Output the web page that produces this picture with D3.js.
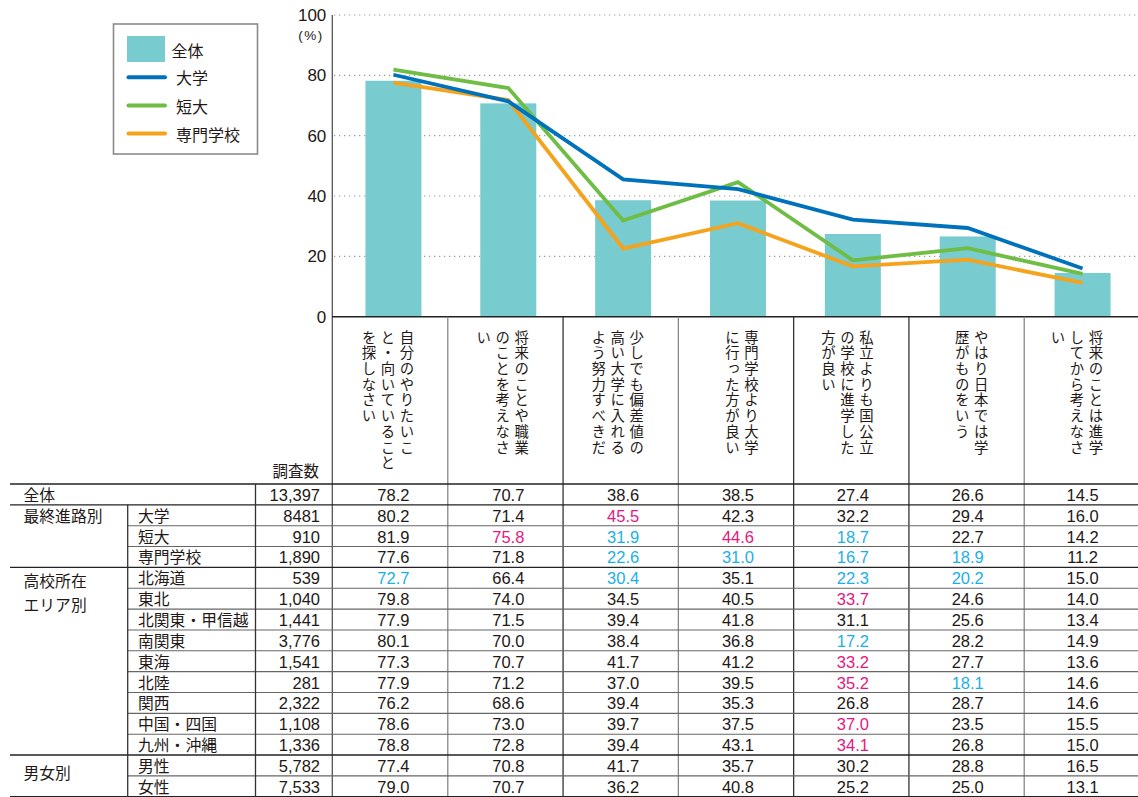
<!DOCTYPE html>
<html><head><meta charset="utf-8">
<script src="https://cdn.jsdelivr.net/npm/d3@7"></script>
<style>
html,body{margin:0;padding:0;background:#fff;}
svg{display:block;font-family:"Liberation Sans","Noto Sans CJK JP",sans-serif;}
</style></head>
<body>
<svg id="chart" width="1138" height="797"></svg>
<script>
// ---------- data ----------
const categories = [
  ["自分のやりたいこ","と・向いていること","を探しなさい"],
  ["将来のことや職業","のことを考えなさ","い"],
  ["少しでも偏差値の","高い大学に入れる","よう努力すべきだ"],
  ["専門学校より大学","に行った方が良い"],
  ["私立よりも国公立","の学校に進学した","方が良い"],
  ["やはり日本では学","歴がものをいう"],
  ["将来のことは進学","してから考えなさ","い"]
];
const seriesNames = ["全体","大学","短大","専門学校"];
const totalValues  = [78.2,70.7,38.6,38.5,27.4,26.6,14.5];
const univValues   = [80.2,71.4,45.5,42.3,32.2,29.4,16.0];
const juniorValues = [81.9,75.8,31.9,44.6,18.7,22.7,14.2];
const vocValues    = [77.6,71.8,22.6,31.0,16.7,18.9,11.2];
const yTicks = [0,20,40,60,80,100];

const groupLabels = [
  {row:0, lines:["全体"]},
  {row:1, lines:["最終進路別"]},
  {row:4, lines:["高校所在","エリア別"]},
  {row:13, lines:["男女別"]}
];
const rowLabels = ["","大学","短大","専門学校","北海道","東北","北関東・甲信越","南関東","東海","北陸","関西","中国・四国","九州・沖縄","男性","女性"];
const rowCounts = ["13,397","8481","910","1,890","539","1,040","1,441","3,776","1,541","281","2,322","1,108","1,336","5,782","7,533"];
const rowValues = [
  [78.2,70.7,38.6,38.5,27.4,26.6,14.5],
  [80.2,71.4,45.5,42.3,32.2,29.4,16.0],
  [81.9,75.8,31.9,44.6,18.7,22.7,14.2],
  [77.6,71.8,22.6,31.0,16.7,18.9,11.2],
  [72.7,66.4,30.4,35.1,22.3,20.2,15.0],
  [79.8,74.0,34.5,40.5,33.7,24.6,14.0],
  [77.9,71.5,39.4,41.8,31.1,25.6,13.4],
  [80.1,70.0,38.4,36.8,17.2,28.2,14.9],
  [77.3,70.7,41.7,41.2,33.2,27.7,13.6],
  [77.9,71.2,37.0,39.5,35.2,18.1,14.6],
  [76.2,68.6,39.4,35.3,26.8,28.7,14.6],
  [78.6,73.0,39.7,37.5,37.0,23.5,15.5],
  [78.8,72.8,39.4,43.1,34.1,26.8,15.0],
  [77.4,70.8,41.7,35.7,30.2,28.8,16.5],
  [79.0,70.7,36.2,40.8,25.2,25.0,13.1]
];
// h = high (pink), l = low (cyan), - = normal
const highlightRows = [
  "-------","--h----","-hlhl--","--llll-","l-l-ll-","----h--","-------",
  "----l--","----h--","----hl-","-------","----h--","----h--","-------","-------"
];

// ---------- styles ----------
const C = {bar:"#78cbce", univ:"#0071bb", junior:"#6fbd45", voc:"#f5a21d",
  text:"#231815", pink:"#e5177f", cyan:"#1cafe6", grid:"#9a9a9a"};
const JP = '"Noto Sans CJK JP",sans-serif';

const svg = d3.select("#chart");
const W = 1138;

// ---------- scales ----------
const x = d3.scalePoint().domain(d3.range(categories.length)).range([336,1140]).padding(0.5);
const y = d3.scaleLinear().domain([0,100]).range([316.7,15]);
const colBand = d3.scaleBand().domain(d3.range(categories.length)).range([332.5,1139.5]);
const barW = 56;

// gridlines
svg.append("g").selectAll("line").data(yTicks.filter(d=>d>0)).join("line")
  .attr("x1",334).attr("x2",W).attr("y1",d=>y(d)).attr("y2",d=>y(d))
  .attr("stroke",C.grid).attr("stroke-width",1.2).attr("stroke-dasharray","1.3,3.7");

// bars
svg.append("g").selectAll("rect").data(totalValues).join("rect")
  .attr("x",(d,i)=>x(i)-barW/2).attr("width",barW)
  .attr("y",d=>y(d)).attr("height",d=>y(0)-y(d))
  .attr("fill",C.bar);

// lines
const lineGen = d3.line().x((d,i)=>x(i)).y(d=>y(d));
[[vocValues,C.voc],[juniorValues,C.junior],[univValues,C.univ]].forEach(([vals,col])=>{
  svg.append("path").attr("d",lineGen(vals)).attr("fill","none")
    .attr("stroke",col).attr("stroke-width",3.8).attr("stroke-linejoin","miter").attr("stroke-linecap","butt");
});

// y axis
const yAxis = d3.axisLeft(y).tickValues(yTicks).tickSize(0).tickPadding(6);
const ag = svg.append("g").attr("transform","translate(332.3,0)").call(yAxis);
ag.select(".domain").remove();
ag.selectAll("text").attr("font-size",17).attr("fill",C.text)
  .attr("font-family",'"Liberation Sans",sans-serif').attr("dx",0);
svg.append("text").attr("x",311).attr("y",35).attr("text-anchor","middle")
  .attr("dominant-baseline","central").attr("font-size",13.5).attr("fill",C.text)
  .attr("font-family",'"Liberation Sans",sans-serif').text("(%)").attr("letter-spacing",1.5);

// axis line down through table
svg.append("line").attr("x1",332.3).attr("x2",332.3).attr("y1",15).attr("y2",797)
  .attr("stroke","#555").attr("stroke-width",1.3);
// baseline
svg.append("line").attr("x1",332).attr("x2",W).attr("y1",y(0)).attr("y2",y(0))
  .attr("stroke","#222").attr("stroke-width",1.6);

// ---------- legend ----------
const lg = svg.append("g");
lg.append("rect").attr("x",113.5).attr("y",24).attr("width",144).attr("height",130)
  .attr("fill","#fff").attr("stroke","#8a8a8a").attr("stroke-width",1.6);
lg.append("rect").attr("x",127).attr("y",36).attr("width",38).attr("height",26).attr("fill",C.bar);
const legendLineColors = [C.univ,C.junior,C.voc];
const legendYs = [50,77.3,105.5,133.5];
seriesNames.forEach((n,i)=>{
  if(i>0){
    lg.append("line").attr("x1",128.5).attr("x2",165).attr("y1",legendYs[i]).attr("y2",legendYs[i])
      .attr("stroke",legendLineColors[i-1]).attr("stroke-width",4).attr("stroke-linecap","round");
  }
  lg.append("text").attr("x",i===0?171.5:176).attr("y",legendYs[i]).attr("dominant-baseline","central")
    .attr("font-family",JP).attr("font-size",16).attr("fill",C.text).text(n);
});

// ---------- category labels (vertical) ----------
const colSpacing = 19;
categories.forEach((lines,i)=>{
  const right = x(i) + 13.5;
  lines.forEach((ln,j)=>{
    svg.append("text").attr("x",right - j*colSpacing).attr("y",330)
      .attr("style","writing-mode: vertical-rl; letter-spacing: 1.3px;")
      .attr("font-family",JP).attr("font-size",14.4).attr("fill",C.text).text(ln);
  });
});

// column separators
const colBounds = d3.range(1,categories.length).map(i=>colBand(i));
const colStroke = ["#888","#333","#888","#333","#333","#888"];
svg.append("g").selectAll("line").data(colBounds).join("line")
  .attr("x1",d=>d).attr("x2",d=>d).attr("y1",y(0)).attr("y2",797)
  .attr("stroke",(d,i)=>colStroke[i]).attr("stroke-width",1.3);

// ---------- table ----------
const tTop = 484, rowH = 20.85;
const rowY = i => tTop + rowH*i + rowH/2;
svg.append("text").attr("x",319).attr("y",470).attr("text-anchor","end")
  .attr("dominant-baseline","central").attr("font-family",JP).attr("font-size",15.5)
  .attr("fill",C.text).text("調査数");

// horizontal lines
const groupBreaks = [0,1,4,13,15];
d3.range(0,rowLabels.length+1).forEach(k=>{
  const yy = tTop + rowH*k;
  const full = groupBreaks.includes(k);
  svg.append("line").attr("x1",full?10:127.7).attr("x2",W).attr("y1",yy).attr("y2",yy)
    .attr("stroke",full?"#222":"#666").attr("stroke-width",full?1.4:1.1);
});
// vertical lines in label area
svg.append("line").attr("x1",127.7).attr("x2",127.7).attr("y1",tTop+rowH).attr("y2",797)
  .attr("stroke","#333").attr("stroke-width",1.3);
svg.append("line").attr("x1",255.5).attr("x2",255.5).attr("y1",tTop).attr("y2",797)
  .attr("stroke","#333").attr("stroke-width",1.3);

// group labels
groupLabels.forEach(g=>{
  g.lines.forEach((ln,j)=>{
    let yy = rowY(g.row) + (g.lines.length>1 ? 3 + j*23.5 : 0);
    if(g.row===13) yy = tTop + rowH*14 - 3;
    svg.append("text").attr("x",23.5).attr("y",yy).attr("dominant-baseline","central")
      .attr("font-family",JP).attr("font-size",15.8).attr("fill",C.text).text(ln);
  });
});
// row labels, counts, values
const fmt = d3.format(".1f");
rowLabels.forEach((lab,r)=>{
  if(lab) svg.append("text").attr("x",138).attr("y",rowY(r)).attr("dominant-baseline","central")
    .attr("font-family",JP).attr("font-size",15.8).attr("fill",C.text).text(lab);
  svg.append("text").attr("x",320).attr("y",rowY(r)+0.5).attr("text-anchor","end")
    .attr("dominant-baseline","central").attr("font-size",16.5).attr("fill",C.text)
    .attr("font-family",'"Liberation Sans",sans-serif').text(rowCounts[r]);
  rowValues[r].forEach((v,c)=>{
    const h = highlightRows[r][c];
    svg.append("text").attr("x",x(c)).attr("y",rowY(r)+0.5).attr("text-anchor","middle")
      .attr("dominant-baseline","central").attr("font-size",16.5)
      .attr("font-family",'"Liberation Sans",sans-serif')
      .attr("fill",h==="h"?C.pink:(h==="l"?C.cyan:C.text)).text(fmt(v));
  });
});
</script>
</body></html>
